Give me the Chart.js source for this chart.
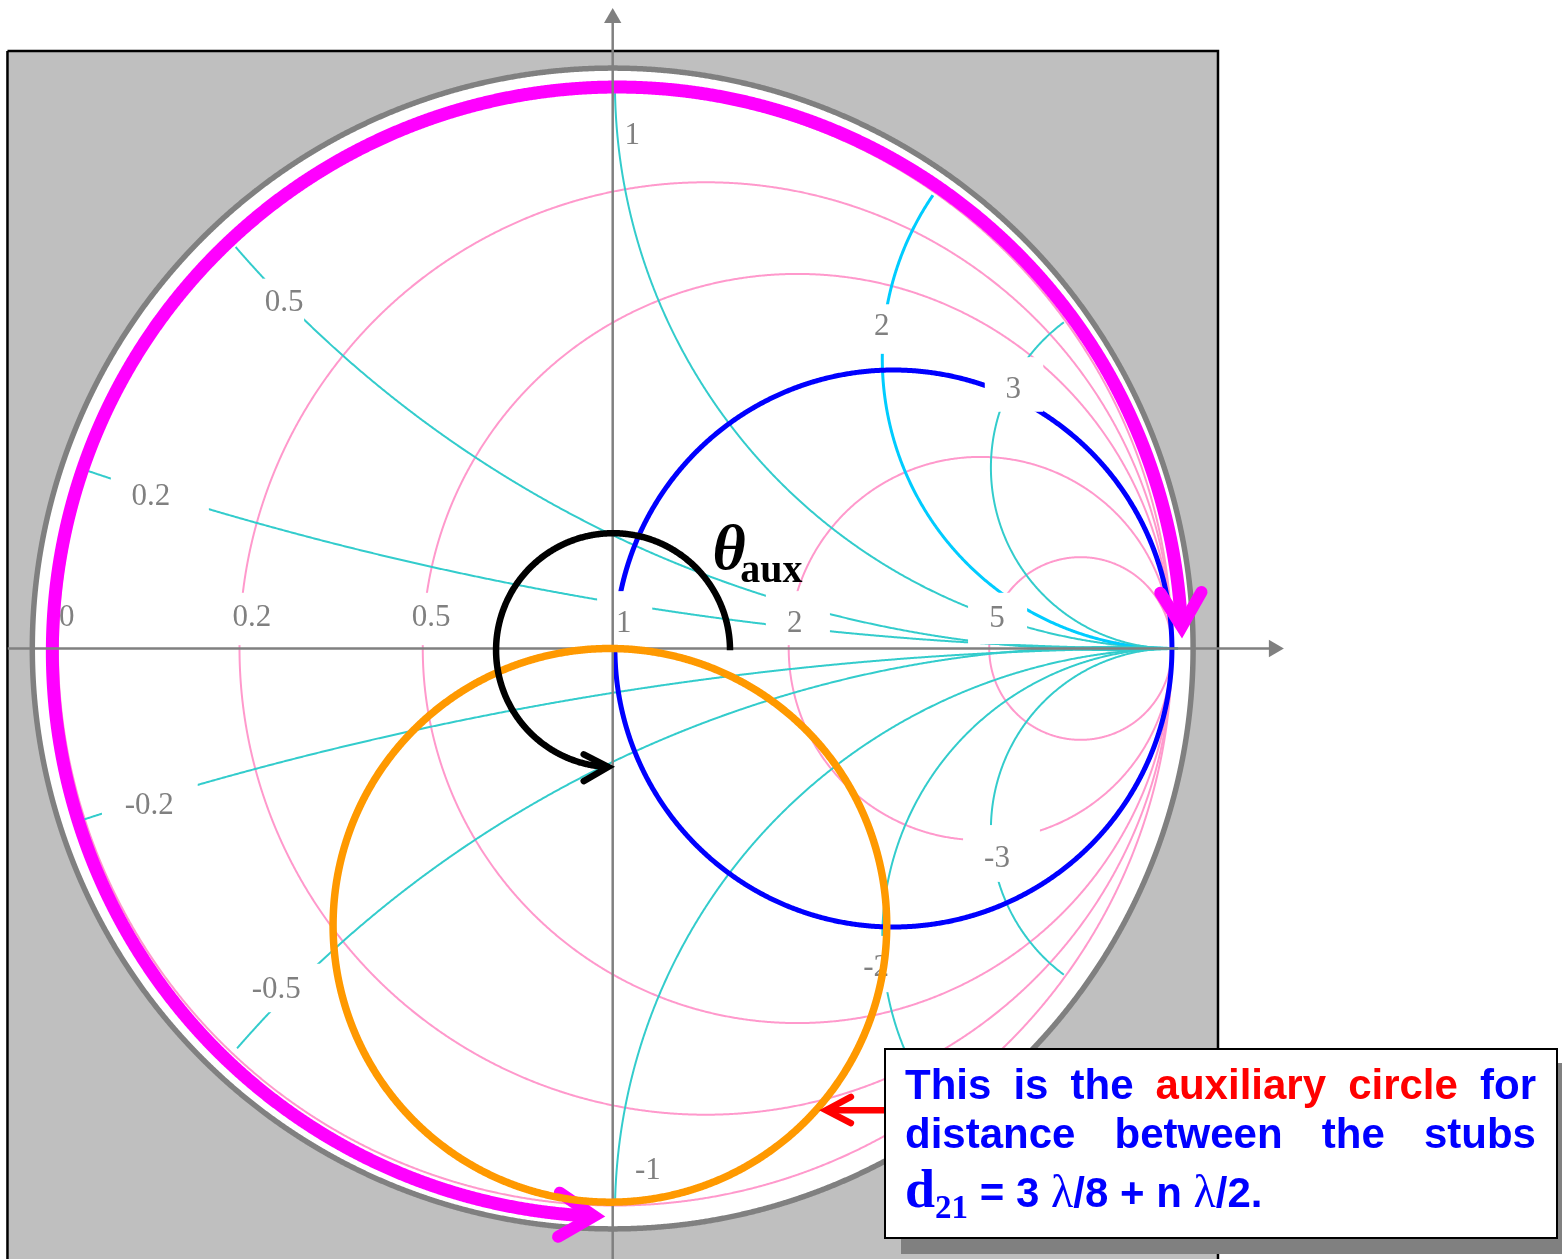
<!DOCTYPE html>
<html lang="en">
<head>
    <meta charset="UTF-8">
    <title>Smith chart - auxiliary circle</title>
    <script src="https://cdn.jsdelivr.net/npm/chart.js"></script>
    <style>
        html, body { margin: 0; padding: 0; background: #fff; overflow: hidden; }
        #wrap { position: relative; width: 1562px; height: 1259px; overflow: hidden; }
        canvas { position: absolute; left: 0; top: 0; }
        #note {
            position: absolute; left: 884px; top: 1048px; width: 670px; height: 187px;
            background: #fff; border: 2px solid #000; box-shadow: 17px 15px 0 #808080;
            color: #0000ff; font: bold 42px "Liberation Sans", Arial, sans-serif;
        }
        #note div { position: absolute; left: 19px; width: 631px; white-space: nowrap; line-height: 48px; }
        #note .just { display: flex; justify-content: space-between; }
        #note .red { color: #ff0000; }
        #note .sub { font-family: "Liberation Serif", serif; font-size: 33px; position: relative; top: 11px; }
        #note .big { font-family: "Liberation Serif", serif; font-size: 54px; }
        #note .lam { font-family: "Liberation Serif", serif; font-weight: normal; font-size: 46px; }
    </style>
</head>
<body>
<div id="wrap">
    <canvas id="smith" width="1562" height="1259"></canvas>
    <div id="note">
        <div class="just" style="top:11px"><span>This</span><span>is</span><span>the</span><span class="red">auxiliary</span><span class="red">circle</span><span>for</span></div>
        <div class="just" style="top:60px"><span>distance</span><span>between</span><span>the</span><span>stubs</span></div>
        <div style="top:115px"><span class="big">d</span><span class="sub">21</span> = 3 <span class="lam">λ</span>/8 + n <span class="lam">λ</span>/2.</div>
    </div>
</div>
<script>
    // everything is in reflection coefficient units
    // constant resistance circles: where they cross the real axis on the left
    const resistanceValues = [0, 0.2, 0.5, 2, 5];
    const resistanceLeft = [-0.996, -0.670, -0.341, 0.316, 0.676];
    const rightCross = 1.004;

    // constant reactance arcs as drawn: centre x, centre y, radius, how far out they run
    const reactanceValues = [0.2, 0.5, 1, 2, 3, -0.2, -0.5, -1, -2, -3];
    const reactanceCentreX = [1.004, 0.907, 1.020, 1.004, 1.004, 1.004, 0.907, 1.020, 1.004, 1.004];
    const reactanceCentreY = [6.10, 2.092, 1.016, 0.52, 0.325, -6.37, -2.092, -1.016, -0.52, -0.325];
    const reactanceRadius = [6.10, 2.095, 1.016, 0.52, 0.325, 6.37, 2.095, 1.016, 0.52, 0.325];
    const reactanceEnd = [1.0, 0.99, 1.0, 1.0, 1.0, 1.0, 0.987, 1.0, 1.0, 1.0];

    // highlighted circles: centre x, centre y, radius
    const blueCircle = [0.504, 0, 0.5];
    const orangeCircle = [-0.005, -0.497, 0.497];
    const magentaCircle = [0.008, -0.006, 1.014];
    const thetaArc = [0.0006, -0.003, 0.21];
    const outerCircle = [0, 0, 1.042];

    const arrowRightX = [0.983, 1.0216, 1.057];
    const arrowRightY = [0.100, 0.039, 0.1015];
    const arrowBottomX = [-0.095, -0.0336, -0.098];
    const arrowBottomY = [-0.977, -1.019, -1.056];
    const arrowThetaX = [-0.052, -0.008, -0.052];
    const arrowThetaY = [-0.190, -0.2127, -0.238];
    const arrowRedX = [0.4276, 0.383, 0.4276];
    const arrowRedY = [-0.805, -0.829, -0.852];
    const redShaftX = [0.385, 0.49];
    const redShaftY = [-0.829, -0.829];

    const squareX = [-1.0866, 1.0867, 1.0867, -1.0866, -1.0866];
    const squareY = [1.0727, 1.0727, -1.1015, -1.1015, 1.0727];

    const axisH = [-1.086, 1.187];
    const axisV = [-1.10, 1.132];

    const labelTexts = ['0.5', '0.2', '2', '3', '1', '5', '2', '1', '0.5', '0.2', '0', '-0.2', '-0.5', '-3', '-2', '-1'];
    const labelX = [-0.590, -0.829, 0.483, 0.719, 0.035, 0.690, 0.327, 0.020, -0.326, -0.648, -0.980, -0.832, -0.604, 0.690, 0.473, 0.063];
    const labelY = [0.621, 0.272, 0.578, 0.464, 0.920, 0.054, 0.044, 0.044, 0.055, 0.055, 0.055, -0.282, -0.612, -0.378, -0.574, -0.937];

    // white patches behind the labels: left, right, top, bottom
    const patches = [
        [-0.628, -0.554, 0.664, 0.575],
        [-0.901, -0.725, 0.329, 0.222],
        [0.444, 0.525, 0.618, 0.529],
        [0.668, 0.773, 0.523, 0.425],
        [0.638, 0.744, 0.100, 0.008],
        [0.275, 0.390, 0.103, 0.006],
        [-0.028, 0.071, 0.103, -0.003],
        [-0.364, -0.292, 0.100, 0.006],
        [-0.683, -0.612, 0.100, 0.006],
        [-0.917, -0.745, -0.227, -0.335],
        [-0.674, -0.500, -0.566, -0.653],
        [0.629, 0.767, -0.317, -0.419],
        [0.435, 0.516, -0.516, -0.617]
    ];

    const PX = 557;
    const ORIGIN_X = 612.7, ORIGIN_Y = 648.5;

    function zip(xs, ys) {
        return xs.map((x, i) => ({ x: x, y: ys[i] }));
    }

    function circlePoints(c, startDeg, endDeg) {
        let pts = [];
        let n = Math.ceil(Math.abs(endDeg - startDeg) * Math.max(c[2], 0.3) * 4) + 2;
        for (let i = 0; i <= n; i++) {
            let a = (startDeg + (endDeg - startDeg) * i / n) * Math.PI / 180;
            pts.push({ x: c[0] + c[2] * Math.cos(a), y: c[1] + c[2] * Math.sin(a) });
        }
        return pts;
    }

    // arc from the meeting point on the right out to the edge of the chart
    function reactancePoints(i) {
        let pts = [];
        let cx = reactanceCentreX[i], cy = reactanceCentreY[i], r = reactanceRadius[i];
        let sign = cy > 0 ? 1 : -1;
        let a = Math.acos((rightCross + 0.011 - cx) / r);
        let step = 0.004 / r;
        for (let k = 0; k < 2000; k++, a += step) {
            let x = cx + r * Math.cos(a);
            let y = cy - sign * r * Math.sin(a);
            if (x < 0.9 && x * x + y * y > reactanceEnd[i] * reactanceEnd[i]) break;
            pts.push({ x: x, y: y });
        }
        return pts;
    }

    let datasets = [];
    function addLine(points, color, width, extra) {
        datasets.push(Object.assign({
            data: points,
            showLine: true,
            borderColor: color,
            borderWidth: width,
            pointRadius: 0,
            tension: 0.01,
            fill: false,
            order: -datasets.length
        }, extra || {}));
    }

    const PINK = '#ff99cc', TEAL = '#33cccc', BRIGHT = '#00ccff', GREY = '#808080', MAGENTA = '#ff00ff', ORANGE = '#ff9900';
    const roundEnds = { tension: 0, borderCapStyle: 'round', borderJoinStyle: 'miter' };

    addLine(zip(squareX, squareY), '#000', 2.5, { tension: 0, fill: 'shape', backgroundColor: '#bfbfbf' });
    addLine(circlePoints(outerCircle, 0, 360), GREY, 5.5, { fill: 'shape', backgroundColor: '#fff' });

    resistanceValues.forEach((r, i) => {
        let radius = (rightCross - resistanceLeft[i]) / 2;
        addLine(circlePoints([resistanceLeft[i] + radius, 0, radius], 0, 360), PINK, 2);
    });

    reactanceValues.forEach((v, i) => {
        addLine(reactancePoints(i), v === 2 ? BRIGHT : TEAL, v === 2 ? 3 : 2);
    });

    addLine(circlePoints(blueCircle, 0, 360), '#0000ff', 5);
    const patchLayer = datasets.length - 1;

    addLine(circlePoints(magentaCircle, 3, 267), MAGENTA, 13);
    addLine(zip(arrowRightX, arrowRightY), MAGENTA, 12, roundEnds);
    addLine(zip(arrowBottomX, arrowBottomY), MAGENTA, 12, roundEnds);

    const arrowTip = { tension: 0, pointStyle: 'triangle', pointRadius: [0, 10], pointBackgroundColor: GREY, pointBorderColor: GREY, pointBorderWidth: 0 };
    addLine(zip(axisH, [0, 0]), GREY, 2.5, Object.assign({ pointRotation: 90 }, arrowTip));
    addLine(zip([0, 0], axisV), GREY, 2.5, Object.assign({ pointRotation: 0 }, arrowTip));

    addLine(circlePoints(orangeCircle, 0, 360), ORANGE, 7.5);
    addLine(circlePoints(thetaArc, 0, 265), '#000', 6.5);
    addLine(zip(arrowThetaX, arrowThetaY), '#000', 6.5, roundEnds);
    addLine(zip(redShaftX, redShaftY), '#ff0000', 6.5, { tension: 0 });
    addLine(zip(arrowRedX, arrowRedY), '#ff0000', 6.5, roundEnds);

    const labelPlugin = {
        id: 'labelPlugin',
        afterDatasetDraw(chart, args) {
            if (args.index !== patchLayer) return;
            const ctx = chart.ctx, sx = chart.scales.x, sy = chart.scales.y;
            ctx.save();
            ctx.fillStyle = '#fff';
            patches.forEach(p => {
                let l = sx.getPixelForValue(p[0]), r = sx.getPixelForValue(p[1]);
                let t = sy.getPixelForValue(p[2]), b = sy.getPixelForValue(p[3]);
                ctx.fillRect(l, t, r - l, b - t);
            });
            ctx.fillStyle = GREY;
            ctx.font = '31px "Liberation Serif", serif';
            ctx.textAlign = 'center';
            ctx.textBaseline = 'middle';
            labelTexts.forEach((t, i) => {
                ctx.fillText(t, sx.getPixelForValue(labelX[i]), sy.getPixelForValue(labelY[i]));
            });
            ctx.restore();
        },
        afterDatasetsDraw(chart) {
            const ctx = chart.ctx, sx = chart.scales.x, sy = chart.scales.y;
            ctx.save();
            ctx.fillStyle = '#000';
            ctx.textAlign = 'left';
            ctx.textBaseline = 'alphabetic';
            ctx.font = 'italic bold 64px "Liberation Serif", serif';
            ctx.fillText('θ', sx.getPixelForValue(0.179), sy.getPixelForValue(0.142));
            ctx.font = 'bold 40px "Liberation Serif", serif';
            ctx.fillText('aux', sx.getPixelForValue(0.229), sy.getPixelForValue(0.120));
            ctx.restore();
        }
    };

    new Chart(document.getElementById('smith'), {
        type: 'scatter',
        data: { datasets: datasets },
        options: {
            responsive: false,
            animation: false,
            layout: { padding: 0, autoPadding: false },
            plugins: { legend: { display: false }, tooltip: { enabled: false } },
            scales: {
                x: { type: 'linear', display: false, min: -ORIGIN_X / PX, max: (1562 - ORIGIN_X) / PX },
                y: { type: 'linear', display: false, min: -(1259 - ORIGIN_Y) / PX, max: ORIGIN_Y / PX }
            }
        },
        plugins: [labelPlugin]
    });
</script>
</body>
</html>
